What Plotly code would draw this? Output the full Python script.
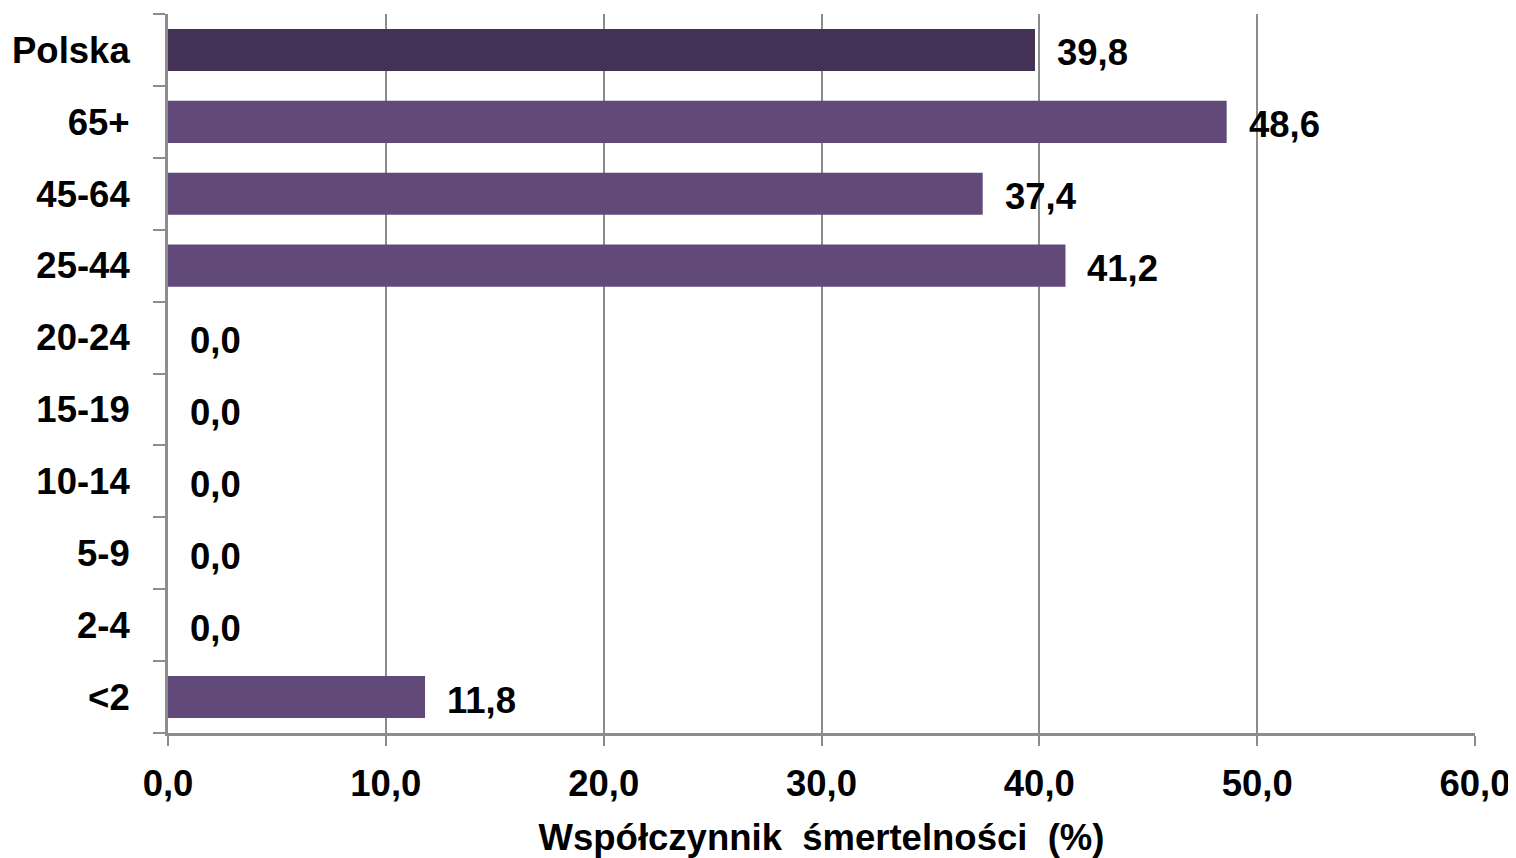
import plotly.graph_objects as go

categories = ["Polska", "65+", "45-64", "25-44", "20-24", "15-19", "10-14", "5-9", "2-4", "<2"]
values = [39.8, 48.6, 37.4, 41.2, 0.0, 0.0, 0.0, 0.0, 0.0, 11.8]
bar_colors = ["#433255"] + ["#614A7A"] * 9
x_title = "Współczynnik\u00a0 śmertelności\u00a0 (%)"

FONT = "Liberation Sans, Arial, sans-serif"
GRID = "#8C8C8C"
FS = 36.5

fig = go.Figure()
fig.add_trace(go.Bar(
    y=categories, x=values, orientation="h",
    marker=dict(color=bar_colors, line=dict(width=0)),
    hoverinfo="skip",
))

for c, v in zip(categories, values):
    fig.add_annotation(
        x=v, y=c, text=f"{v:.1f}".replace(".", ","),
        xanchor="left", yanchor="middle", xshift=20, yshift=-3,
        showarrow=False,
        font=dict(family=FONT, size=FS, color="black", weight="bold"),
    )

fig.update_layout(
    width=1508, height=850,
    margin=dict(l=160, r=41, t=6, b=125, autoexpand=False),
    paper_bgcolor="white", plot_bgcolor="white",
    bargap=0.415,
    showlegend=False,
    separators=", ",
    font=dict(family=FONT, size=FS, color="black", weight="bold"),
)
fig.update_xaxes(
    range=[0, 60], dtick=10, tickformat=".1f",
    showgrid=True, gridcolor=GRID, gridwidth=2,
    showline=True, linecolor=GRID, linewidth=3,
    ticks="outside", ticklen=10, tickwidth=2, tickcolor=GRID,
    ticklabelstandoff=6,
    tickfont=dict(family=FONT, size=FS, color="black", weight="bold"),
    title=dict(text=x_title, standoff=24,
               font=dict(family=FONT, size=FS, color="black", weight="bold")),
    zeroline=False,
)
fig.update_yaxes(
    categoryorder="array", categoryarray=categories[::-1],
    showline=True, linecolor=GRID, linewidth=3,
    ticks="outside", ticklen=12, tickwidth=2, tickcolor=GRID,
    tickson="boundaries", ticklabelstandoff=28,
    tickfont=dict(family=FONT, size=FS, color="black", weight="bold"),
    showgrid=False, zeroline=False,
)

fig.write_html("out.html")
